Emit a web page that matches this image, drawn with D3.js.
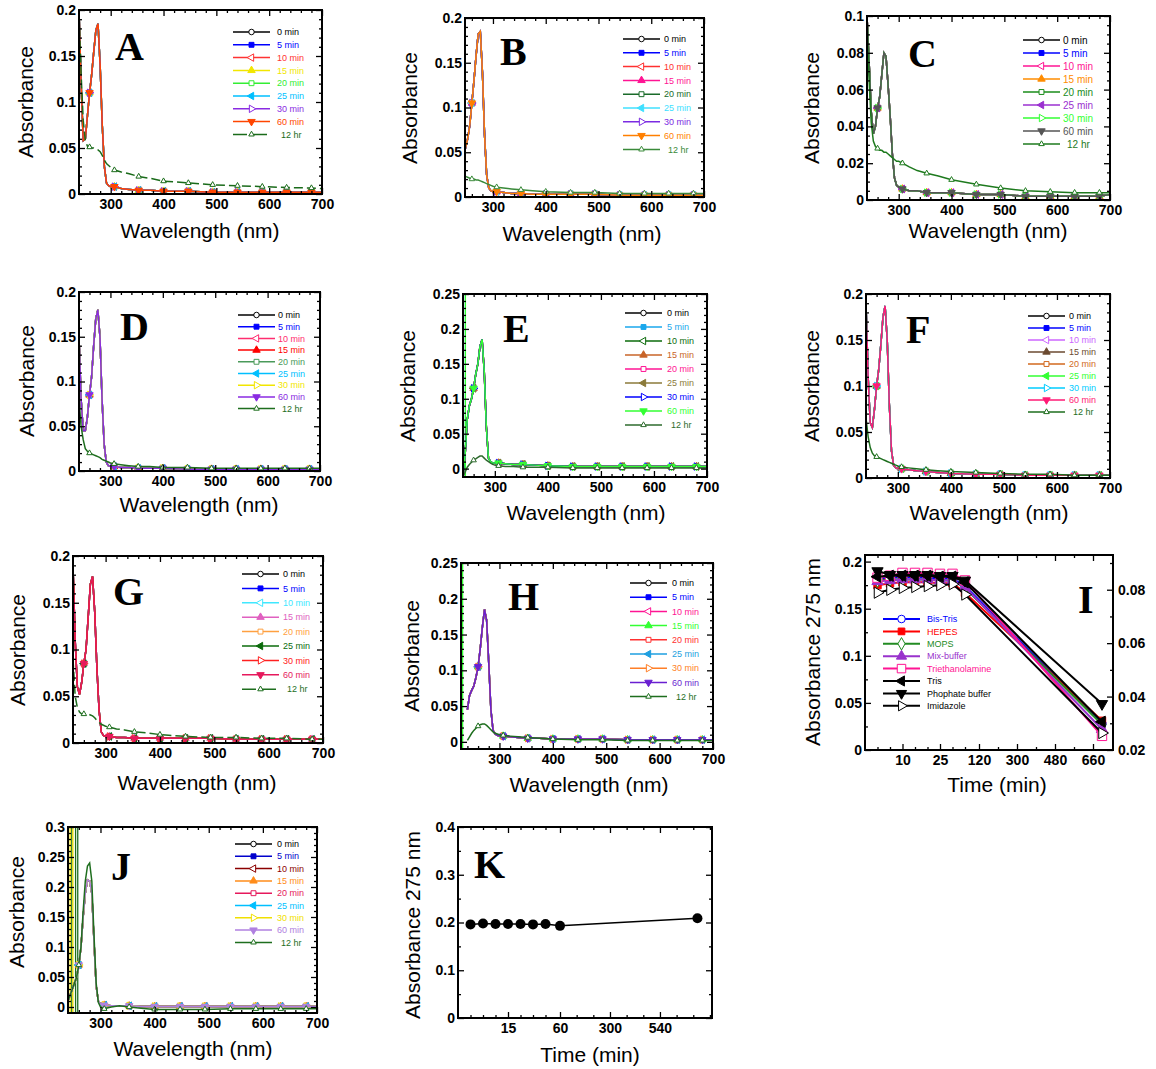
<!DOCTYPE html>
<html>
<head>
<meta charset="utf-8">
<script src="https://cdn.jsdelivr.net/npm/d3@7"></script>
<style>
  body { margin: 0; background: #fff; }
  svg { font-family: "Liberation Sans", Arial, sans-serif; }
</style>
</head>
<body>
<div id="chart"></div>
<script>
// ---- data ----
const wl = [240, 244, 248, 252, 256, 260, 264, 268, 272, 276, 280, 284, 288, 292, 296, 300, 307, 320, 335, 353, 375, 400, 447, 493, 540, 587, 633, 680, 700];
const markerWl = [260, 307, 353, 400, 447, 493, 540, 587, 633, 680];
const timeLabels = ['0 min', '5 min', '10 min', '15 min', '20 min', '25 min', '30 min', '60 min', '12 hr'];
const wlTicks = [300, 400, 500, 600, 700];

const aMin = [0.200, 0.120, 0.058, 0.060, 0.085, 0.110, 0.130, 0.155, 0.178, 0.185, 0.140, 0.075, 0.030, 0.012, 0.009, 0.008, 0.008, 0.006, 0.005, 0.004, 0.004, 0.003, 0.003, 0.002, 0.002, 0.002, 0.002, 0.002, 0.002];
const a12 = [0.195, 0.130, 0.080, 0.058, 0.052, 0.051, 0.050, 0.050, 0.049, 0.048, 0.046, 0.042, 0.037, 0.033, 0.031, 0.029, 0.026, 0.024, 0.022, 0.019, 0.017, 0.014, 0.012, 0.010, 0.009, 0.008, 0.007, 0.0065, 0.006];
const bMin = [0.040, 0.045, 0.055, 0.065, 0.080, 0.105, 0.130, 0.158, 0.182, 0.185, 0.140, 0.070, 0.025, 0.010, 0.007, 0.006, 0.006, 0.005, 0.004, 0.004, 0.003, 0.003, 0.003, 0.003, 0.002, 0.002, 0.002, 0.002, 0.002];
const b12 = [0.025, 0.024, 0.023, 0.022, 0.021, 0.020, 0.020, 0.019, 0.019, 0.018, 0.017, 0.016, 0.015, 0.014, 0.013, 0.012, 0.011, 0.010, 0.009, 0.008, 0.007, 0.006, 0.005, 0.005, 0.004, 0.004, 0.004, 0.004, 0.004];
const cMin = [0.100, 0.075, 0.048, 0.036, 0.040, 0.050, 0.056, 0.068, 0.080, 0.078, 0.062, 0.045, 0.025, 0.012, 0.008, 0.007, 0.006, 0.005, 0.005, 0.004, 0.004, 0.004, 0.003, 0.003, 0.002, 0.002, 0.002, 0.002, 0.003];
const c12 = [0.095, 0.065, 0.042, 0.032, 0.029, 0.028, 0.027, 0.027, 0.026, 0.026, 0.025, 0.024, 0.023, 0.022, 0.021, 0.021, 0.020, 0.018, 0.016, 0.0145, 0.013, 0.011, 0.0085, 0.0065, 0.005, 0.0045, 0.004, 0.004, 0.004];
const dMin = [0.150, 0.080, 0.045, 0.045, 0.060, 0.085, 0.105, 0.140, 0.170, 0.180, 0.150, 0.080, 0.030, 0.010, 0.006, 0.005, 0.005, 0.004, 0.004, 0.003, 0.003, 0.003, 0.002, 0.002, 0.002, 0.002, 0.002, 0.002, 0.002];
const d12 = [0.080, 0.050, 0.035, 0.025, 0.022, 0.020, 0.019, 0.018, 0.017, 0.016, 0.015, 0.013, 0.012, 0.011, 0.010, 0.009, 0.008, 0.007, 0.006, 0.005, 0.005, 0.004, 0.004, 0.003, 0.003, 0.003, 0.003, 0.003, 0.003];
const eMin = [-0.010, 0.020, 0.070, 0.090, 0.100, 0.115, 0.135, 0.150, 0.175, 0.185, 0.140, 0.060, 0.015, 0.010, 0.008, 0.008, 0.008, 0.007, 0.006, 0.006, 0.005, 0.004, 0.003, 0.003, 0.003, 0.003, 0.003, 0.003, 0.003];
const e12 = [-0.012, -0.005, 0.002, 0.006, 0.009, 0.012, 0.014, 0.016, 0.018, 0.018, 0.015, 0.012, 0.010, 0.008, 0.006, 0.005, 0.004, 0.003, 0.003, 0.002, 0.002, 0.002, 0.001, 0.001, 0.001, 0.001, 0.001, 0.001, 0.001];
const fMin = [0.190, 0.110, 0.060, 0.055, 0.075, 0.100, 0.118, 0.145, 0.175, 0.187, 0.150, 0.080, 0.030, 0.014, 0.011, 0.010, 0.010, 0.009, 0.008, 0.007, 0.006, 0.005, 0.004, 0.004, 0.003, 0.003, 0.003, 0.003, 0.003];
const f12 = [0.065, 0.045, 0.033, 0.027, 0.024, 0.023, 0.022, 0.021, 0.020, 0.019, 0.018, 0.017, 0.016, 0.015, 0.014, 0.013, 0.012, 0.011, 0.010, 0.009, 0.008, 0.007, 0.006, 0.005, 0.004, 0.004, 0.003, 0.003, 0.003];
const gMin = [0.190, 0.110, 0.060, 0.052, 0.065, 0.085, 0.100, 0.135, 0.170, 0.178, 0.140, 0.080, 0.035, 0.012, 0.008, 0.007, 0.007, 0.006, 0.006, 0.005, 0.005, 0.005, 0.005, 0.005, 0.004, 0.004, 0.004, 0.004, 0.004];
const g12 = [0.090, 0.050, 0.038, 0.033, 0.031, 0.031, 0.030, 0.031, 0.030, 0.029, 0.027, 0.024, 0.022, 0.020, 0.019, 0.018, 0.017, 0.015, 0.014, 0.012, 0.011, 0.009, 0.007, 0.006, 0.006, 0.005, 0.005, 0.004, 0.004];
const hMin = [0.045, 0.065, 0.072, 0.078, 0.090, 0.105, 0.130, 0.160, 0.185, 0.170, 0.110, 0.045, 0.016, 0.011, 0.009, 0.008, 0.008, 0.007, 0.006, 0.005, 0.005, 0.004, 0.004, 0.004, 0.003, 0.003, 0.003, 0.003, 0.003];
const h12 = [0.002, 0.007, 0.012, 0.016, 0.019, 0.022, 0.024, 0.025, 0.025, 0.023, 0.020, 0.017, 0.014, 0.012, 0.011, 0.010, 0.009, 0.008, 0.007, 0.006, 0.005, 0.004, 0.003, 0.003, 0.002, 0.002, 0.002, 0.002, 0.002];
const jMin = [0.010, 0.020, 0.030, 0.040, 0.050, 0.070, 0.100, 0.150, 0.190, 0.212, 0.210, 0.190, 0.110, 0.035, 0.010, 0.005, 0.003, 0.002, 0.002, 0.002, 0.001, 0.001, 0.001, 0.001, 0.001, 0.001, 0.001, 0.001, 0.001];
const j12 = [0.010, 0.020, 0.030, 0.040, 0.050, 0.070, 0.100, 0.160, 0.210, 0.235, 0.240, 0.210, 0.120, 0.040, 0.008, 0.000, -0.003, 0.000, 0.002, 0.000, -0.002, -0.004, -0.004, -0.004, -0.003, -0.003, -0.003, -0.003, -0.003];

// off-scale spikes at the short-wavelength edge
const eSpikes = [241, 244.5];
const hSpikes = [231];
const jSpikes = [244, 247, 249, 254, 258];

// panel I and K
const timeMin = [0, 5, 10, 15, 20, 25, 30, 60, 720];
const bufferNames = ['Bis-Tris', 'HEPES', 'MOPS', 'Mix-buffer', 'Triethanolamine', 'Tris', 'Phophate buffer', 'Imidazole'];
const bisTris = [0.182, 0.183, 0.183, 0.183, 0.183, 0.182, 0.182, 0.174, 0.028];
const hepes = [0.175, 0.177, 0.178, 0.178, 0.178, 0.177, 0.177, 0.167, 0.031];
const mops = [0.180, 0.181, 0.181, 0.181, 0.181, 0.180, 0.180, 0.172, 0.027];
const mixBuffer = [0.179, 0.180, 0.181, 0.181, 0.181, 0.180, 0.180, 0.173, 0.022];
const triethanolamine = [0.183, 0.185, 0.188, 0.188, 0.188, 0.187, 0.187, 0.180, 0.015];
const tris = [0.184, 0.185, 0.185, 0.185, 0.185, 0.184, 0.184, 0.178, 0.030];
const phosphate = [0.190, 0.186, 0.186, 0.186, 0.186, 0.185, 0.185, 0.180, 0.049];
const imidazole = [0.167, 0.170, 0.172, 0.173, 0.174, 0.175, 0.176, 0.165, 0.018];
const kAbs = [0.196, 0.198, 0.197, 0.197, 0.197, 0.196, 0.197, 0.193, 0.209];
const iTimeTicks = [10, 25, 120, 300, 480, 660];
const kTimeTicks = [15, 60, 300, 540];

// ---- styles ----
const colorsA = ['#000000', '#0000ff', '#ff3333', '#f2e600', '#33ee33', '#00bfff', '#8a2be2', '#ff4500', '#1a6b1a'];
const colorsB = ['#000000', '#0000ff', '#ff3030', '#ff1493', '#1a6b2a', '#40e0ff', '#7b2be2', '#ff7f00', '#3a8a3a'];
const colorsC = ['#000000', '#0000ff', '#ff1493', '#ff8c00', '#1a8c1a', '#9b30d0', '#33ff33', '#555555', '#1e7a1e'];
const colorsD = ['#000000', '#0000ff', '#ff2d6f', '#ff0000', '#4a9a5a', '#00bfff', '#f2e600', '#8a2be2', '#1e6e1e'];
const colorsE = ['#000000', '#1aa7ec', '#0b6b0b', '#c86428', '#ff1493', '#8b7a3a', '#0000ff', '#33ff33', '#2e6b2e'];
const colorsF = ['#000000', '#0000ff', '#cc66ff', '#6b4a30', '#d2691e', '#33ff33', '#00ccff', '#ff1a75', '#1e6e1e'];
const colorsG = ['#000000', '#0000ff', '#40e8ff', '#e060c0', '#ffa040', '#0b6b0b', '#ff2020', '#e6195c', '#1e6e1e'];
const colorsH = ['#000000', '#0000ff', '#ff1493', '#33ff33', '#ff3030', '#1e9fe0', '#ff7f27', '#6a1fd1', '#1e6e1e'];
const colorsJ = ['#000000', '#0000cc', '#8b0000', '#ff8c1a', '#e6195c', '#00bfff', '#f0e000', '#b080e0', '#1e6e1e'];
const colorsI = ['#0000ff', '#ff0000', '#228b22', '#9932cc', '#ff1493', '#000000', '#000000', '#000000'];

const timeMarkers = [
  {shape: 'circle', rot: 0, open: true},
  {shape: 'square', rot: 0, open: false},
  {shape: 'tri', rot: -90, open: true},
  {shape: 'tri', rot: 0, open: false},
  {shape: 'square', rot: 0, open: true},
  {shape: 'tri', rot: -90, open: false},
  {shape: 'tri', rot: 90, open: true},
  {shape: 'tri', rot: 180, open: false},
  {shape: 'tri', rot: 0, open: true, small: true}
];
const bufferMarkers = [
  {shape: 'circle', rot: 0, open: true},
  {shape: 'square', rot: 0, open: false},
  {shape: 'diamond', rot: 0, open: true},
  {shape: 'tri', rot: 0, open: false},
  {shape: 'square', rot: 0, open: true, big: true},
  {shape: 'tri', rot: -90, open: false},
  {shape: 'tri', rot: 180, open: false},
  {shape: 'tri', rot: 90, open: true}
];

const spectra = [
  {id: 'A', min: aMin, hr: a12, colors: colorsA, dash12: true, spikes: [], spikeColors: [], xDom: [240, 700],
   box: [79, 322, 10, 194], yDom: [0, 0.2], yTicks: [0, 0.05, 0.1, 0.15, 0.2], yMinor: 0.01,
   leg: [233, 277, 32, 12.8], letter: [115, 60], yl: [26, 102], xl: [200, 238]},
  {id: 'B', min: bMin, hr: b12, colors: colorsB, dash12: false, spikes: [], spikeColors: [], xDom: [247, 700],
   box: [465, 704, 18, 197], yDom: [0, 0.2], yTicks: [0, 0.05, 0.1, 0.15, 0.2], yMinor: 0.01,
   leg: [623, 664, 39, 13.8], letter: [500, 65], yl: [410, 108], xl: [582, 241]},
  {id: 'C', min: cMin, hr: c12, colors: colorsC, dash12: false, spikes: [], spikeColors: [], xDom: [240, 700],
   box: [867, 1110, 16, 200], yDom: [0, 0.1], yTicks: [0, 0.02, 0.04, 0.06, 0.08, 0.1], yMinor: 0.005,
   leg: [1023, 1063, 40, 13], letter: [908, 67], yl: [812, 108], xl: [988, 238], legFont: 10},
  {id: 'D', min: dMin, hr: d12, colors: colorsD, dash12: false, spikes: [], spikeColors: [], xDom: [240, 700],
   box: [79, 320, 292, 471], yDom: [0, 0.2], yTicks: [0, 0.05, 0.1, 0.15, 0.2], yMinor: 0.01,
   leg: [238, 278, 315, 11.7], letter: [120, 340], yl: [27, 381], xl: [199, 512]},
  {id: 'E', min: eMin, hr: e12, colors: colorsE, dash12: false, spikes: eSpikes, spikeColors: ['#1aa7ec', '#33ff33'], xDom: [240, 700],
   box: [463, 707, 294, 477], yDom: [-0.012, 0.25], yTicks: [0, 0.05, 0.1, 0.15, 0.2, 0.25], yMinor: 0.01,
   leg: [625, 667, 313, 14], letter: [503, 342], yl: [408, 386], xl: [586, 520]},
  {id: 'F', min: fMin, hr: f12, colors: colorsF, dash12: false, spikes: [], spikeColors: [], xDom: [240, 700],
   box: [866, 1110, 294, 478], yDom: [0, 0.2], yTicks: [0, 0.05, 0.1, 0.15, 0.2], yMinor: 0.01,
   leg: [1028, 1069, 316, 12], letter: [906, 343], yl: [812, 386], xl: [989, 520]},
  {id: 'G', min: gMin, hr: g12, colors: colorsG, dash12: true, spikes: [], spikeColors: [], xDom: [240, 700],
   box: [73, 323, 556, 743], yDom: [0, 0.2], yTicks: [0, 0.05, 0.1, 0.15, 0.2], yMinor: 0.01,
   leg: [242, 283, 574, 14.4], letter: [113, 605], yl: [18, 650], xl: [197, 790]},
  {id: 'H', min: hMin, hr: h12, colors: colorsH, dash12: false, spikes: hSpikes, spikeColors: ['#33ff33'], xDom: [228, 700],
   box: [461, 713, 563, 749], yDom: [-0.01, 0.25], yTicks: [0, 0.05, 0.1, 0.15, 0.2, 0.25], yMinor: 0.01,
   leg: [630, 672, 583, 14.2], letter: [508, 610], yl: [412, 656], xl: [589, 792]},
  {id: 'J', min: jMin, hr: j12, colors: colorsJ, dash12: false, spikes: jSpikes, xDom: [240, 700],
   spikeColors: ['#f0e000', '#1e6e1e', '#f0e000', '#1e6e1e', '#1e6e1e'],
   box: [68, 317, 827, 1013], yDom: [-0.01, 0.3], yTicks: [0, 0.05, 0.1, 0.15, 0.2, 0.25, 0.3], yMinor: 0.01,
   leg: [235, 277, 844, 12.3], letter: [111, 880], yl: [17, 912], xl: [193, 1056]}
];

// ---- drawing ----
const svg = d3.select('#chart').append('svg')
  .attr('width', 1156).attr('height', 1069);
svg.append('rect').attr('width', 1156).attr('height', 1069).attr('fill', '#fff');

const symbolTypes = {circle: d3.symbolCircle, square: d3.symbolSquare, tri: d3.symbolTriangle, diamond: d3.symbolDiamond};

function drawMarker(g, m, cx, cy, color, size) {
  let s = size;
  if (m.small) s = size * 0.55;
  if (m.big) s = size * 1.6;
  g.append('path')
    .attr('d', d3.symbol().type(symbolTypes[m.shape]).size(s)())
    .attr('transform', `translate(${cx},${cy}) rotate(${m.rot})`)
    .attr('fill', m.open ? '#fff' : color)
    .attr('stroke', color)
    .attr('stroke-width', 1);
}

function styleAxis(sel) {
  sel.select('.domain').remove();
  sel.selectAll('line').attr('stroke', '#000').attr('stroke-width', 1.3);
  sel.selectAll('text')
    .style('font-family', '"Liberation Sans", Arial, sans-serif')
    .attr('font-size', 14).attr('font-weight', 'bold').attr('fill', '#000');
}

function drawFrame(g, x, y, box, xTicks, xMinor, yTicks, yMinor, opts) {
  const [x0, x1, y0, y1] = box;
  const fmt = d => String(d);
  g.append('g').attr('transform', `translate(0,${y1})`)
    .call(d3.axisBottom(x).tickValues(xTicks).tickSize(-6).tickPadding(5).tickFormat(fmt)).call(styleAxis);
  g.append('g').attr('transform', `translate(0,${y1})`)
    .call(d3.axisBottom(x).tickValues(xMinor).tickSize(-3).tickFormat('')).call(styleAxis);
  g.append('g').attr('transform', `translate(0,${y0})`)
    .call(d3.axisTop(x).tickValues(xTicks).tickSize(-6).tickFormat('')).call(styleAxis);
  g.append('g').attr('transform', `translate(0,${y0})`)
    .call(d3.axisTop(x).tickValues(xMinor).tickSize(-3).tickFormat('')).call(styleAxis);
  g.append('g').attr('transform', `translate(${x0},0)`)
    .call(d3.axisLeft(y).tickValues(yTicks).tickSize(-6).tickPadding(3).tickFormat(fmt)).call(styleAxis);
  g.append('g').attr('transform', `translate(${x0},0)`)
    .call(d3.axisLeft(y).tickValues(yMinor).tickSize(-3).tickFormat('')).call(styleAxis);
  if (!opts || !opts.y2) {
    g.append('g').attr('transform', `translate(${x1},0)`)
      .call(d3.axisRight(y).tickValues(yTicks).tickSize(-6).tickFormat('')).call(styleAxis);
    g.append('g').attr('transform', `translate(${x1},0)`)
      .call(d3.axisRight(y).tickValues(yMinor).tickSize(-3).tickFormat('')).call(styleAxis);
  } else {
    g.append('g').attr('transform', `translate(${x1},0)`)
      .call(d3.axisRight(opts.y2).tickValues(opts.y2Ticks).tickSize(-6).tickPadding(5).tickFormat(fmt)).call(styleAxis);
    g.append('g').attr('transform', `translate(${x1},0)`)
      .call(d3.axisRight(opts.y2).tickValues(opts.y2Minor).tickSize(-3).tickFormat('')).call(styleAxis);
  }
  g.append('rect')
    .attr('x', x0).attr('y', y0).attr('width', x1 - x0).attr('height', y1 - y0)
    .attr('fill', 'none').attr('stroke', '#000').attr('stroke-width', 2);
}

function drawTitles(g, p, xTitle, yTitle) {
  g.append('text')
    .attr('transform', `translate(${p.yl[0]},${p.yl[1]}) rotate(-90)`)
    .attr('text-anchor', 'middle').attr('dy', '0.35em')
    .attr('font-size', 21).text(yTitle);
  g.append('text')
    .attr('x', p.xl[0]).attr('y', p.xl[1])
    .attr('text-anchor', 'middle').attr('font-size', 21).text(xTitle);
  g.append('text')
    .attr('x', p.letter[0]).attr('y', p.letter[1])
    .style('font-family', '"Liberation Serif", "Times New Roman", serif')
    .attr('font-weight', 'bold').attr('font-size', 40).text(p.id);
}

function clipFor(p) {
  const [x0, x1, y0, y1] = p.box;
  svg.append('clipPath').attr('id', 'clip' + p.id)
    .append('rect').attr('x', x0).attr('y', y0).attr('width', x1 - x0).attr('height', y1 - y0);
  return `url(#clip${p.id})`;
}

function drawSpectrum(p) {
  const g = svg.append('g');
  const [x0, x1, y0, y1] = p.box;
  const x = d3.scaleLinear().domain(p.xDom).range([x0, x1]);
  const y = d3.scaleLinear().domain(p.yDom).range([y1, y0]);
  const plot = g.append('g').attr('clip-path', clipFor(p));
  const line = d3.line().x(d => x(d[0])).y(d => y(d[1]));

  // off-scale spikes drawn first
  p.spikes.forEach((w, i) => {
    plot.append('line')
      .attr('x1', x(w)).attr('x2', x(w))
      .attr('y1', y(p.yDom[0])).attr('y2', y(p.yDom[1]))
      .attr('stroke', p.spikeColors[i]).attr('stroke-width', 1.3);
  });

  timeLabels.forEach((lab, i) => {
    const vals = i < 8 ? p.min : p.hr;
    const pts = wl.map((w, k) => [w, vals[k]]);
    plot.append('path').datum(pts)
      .attr('d', line)
      .attr('fill', 'none')
      .attr('stroke', p.colors[i])
      .attr('stroke-width', 1.5)
      .attr('stroke-dasharray', (i === 8 && p.dash12) ? '9,4' : null);
    pts.filter(d => markerWl.includes(d[0])).forEach(d => {
      drawMarker(plot, timeMarkers[i], x(d[0]), y(d[1]), p.colors[i], 24);
    });
  });

  const yMinor = d3.range(0, p.yDom[1] + 1e-9, p.yMinor)
    .filter(v => !p.yTicks.some(t => Math.abs(t - v) < 1e-9));
  const xMinor = d3.range(220, 701, 20).filter(v => v % 100 !== 0 && v > p.xDom[0]);
  drawFrame(g, x, y, p.box, wlTicks, xMinor, p.yTicks, yMinor);

  // legend
  const [lx, tx, ly, step] = p.leg;
  const fs = p.legFont || 9;
  timeLabels.forEach((lab, i) => {
    const yy = ly + i * step;
    g.append('line')
      .attr('x1', lx).attr('x2', lx + 37).attr('y1', yy).attr('y2', yy)
      .attr('stroke', p.colors[i]).attr('stroke-width', 1.5)
      .attr('stroke-dasharray', (i === 8 && p.dash12) ? '14,6' : null);
    drawMarker(g, timeMarkers[i], lx + 18.5, yy, p.colors[i], 24);
    g.append('text')
      .attr('x', i === 8 ? tx + 4 : tx).attr('y', yy).attr('dy', '0.35em')
      .attr('font-size', fs).attr('fill', p.colors[i]).text(lab);
  });

  drawTitles(g, p, 'Wavelength (nm)', 'Absorbance');
}

spectra.forEach(drawSpectrum);

// ---- panel I ----
(function () {
  const p = {id: 'I', box: [865, 1113, 555, 750], letter: [1078, 613], yl: [813, 652], xl: [997, 792]};
  const [x0, x1, y0, y1] = p.box;
  const g = svg.append('g');
  const x = d3.scaleLinear().domain([-5, 30, 60, 120, 660, 720, 770])
    .range([x0, x0 + 87.5, x0 + 100, x0 + 114, x0 + 228, x0 + 237, x1]);
  const y = d3.scaleLinear().domain([0, 0.207]).range([y1, y0]);
  const y2 = d3.scaleLinear().domain([0.02, 0.093]).range([y1, y0]);
  const series = [bisTris, hepes, mops, mixBuffer, triethanolamine, tris, phosphate, imidazole];
  const plot = g.append('g').attr('clip-path', clipFor(p));
  const line = d3.line().x(d => x(d[0])).y(d => y(d[1]));
  series.forEach((vals, i) => {
    const pts = timeMin.map((t, k) => [t, vals[k]]);
    plot.append('path').datum(pts).attr('d', line)
      .attr('fill', 'none').attr('stroke', colorsI[i]).attr('stroke-width', 2);
    pts.forEach(d => drawMarker(plot, bufferMarkers[i], x(d[0]), y(d[1]), colorsI[i], 55));
  });
  drawFrame(g, x, y, p.box, iTimeTicks, [0, 5, 15, 20, 30, 60, 210, 390, 570],
    [0, 0.05, 0.1, 0.15, 0.2], [0.025, 0.075, 0.125, 0.175],
    {y2: y2, y2Ticks: [0.02, 0.04, 0.06, 0.08], y2Minor: [0.03, 0.05, 0.07, 0.09]});
  bufferNames.forEach((lab, i) => {
    const yy = 619 + i * 12.4;
    g.append('line').attr('x1', 883).attr('x2', 920).attr('y1', yy).attr('y2', yy)
      .attr('stroke', colorsI[i]).attr('stroke-width', 2);
    drawMarker(g, bufferMarkers[i], 901.5, yy, colorsI[i], 45);
    g.append('text').attr('x', 927).attr('y', yy).attr('dy', '0.35em')
      .attr('font-size', 9).attr('fill', colorsI[i]).text(lab);
  });
  drawTitles(g, p, 'Time (min)', 'Absorbance 275 nm');
})();

// ---- panel K ----
(function () {
  const p = {id: 'K', box: [458, 712, 827, 1018], letter: [474, 878], yl: [413, 925], xl: [590, 1062]};
  const [x0, x1, y0, y1] = p.box;
  const g = svg.append('g');
  const x = d3.scaleLinear().domain([-5, 30, 60, 790]).range([x0, x0 + 87.5, x0 + 102, x1]);
  const y = d3.scaleLinear().domain([0, 0.4]).range([y1, y0]);
  const plot = g.append('g').attr('clip-path', clipFor(p));
  const pts = timeMin.map((t, k) => [t, kAbs[k]]);
  plot.append('path').datum(pts)
    .attr('d', d3.line().x(d => x(d[0])).y(d => y(d[1])))
    .attr('fill', 'none').attr('stroke', '#000').attr('stroke-width', 1.5);
  plot.selectAll('circle.pt').data(pts).enter().append('circle')
    .attr('cx', d => x(d[0])).attr('cy', d => y(d[1])).attr('r', 5).attr('fill', '#000');
  drawFrame(g, x, y, p.box, kTimeTicks, [0, 5, 10, 20, 25, 30, 140, 220, 380, 460, 620, 700, 780],
    [0, 0.1, 0.2, 0.3, 0.4], [0.05, 0.15, 0.25, 0.35]);
  drawTitles(g, p, 'Time (min)', 'Absorbance 275 nm');
})();
</script>
</body>
</html>
